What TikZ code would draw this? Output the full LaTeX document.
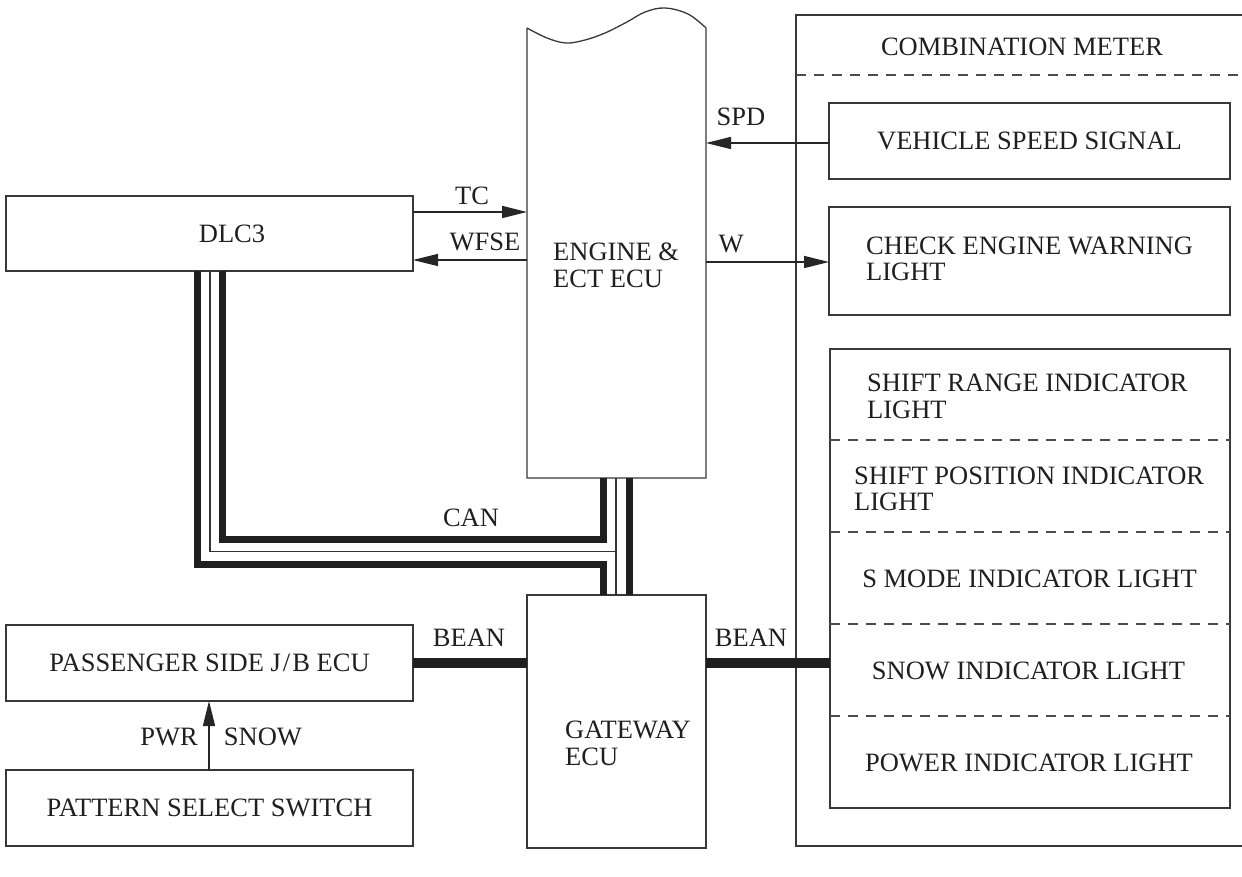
\documentclass[tikz,border=0pt]{standalone}
\usepackage{fontspec}
\setmainfont{Liberation Serif}
\usetikzlibrary{arrows.meta}
\newcommand{\dfont}{\fontsize{26.5}{26.5}\selectfont}
\begin{document}
\begin{tikzpicture}[x=1pt,y=-1pt,
  box/.style={draw=black!78, line width=1.3pt, inner sep=0pt, outer sep=0pt, text=black!88, font=\dfont},
  ghost/.style={inner sep=0pt, outer sep=0pt},
  lbl/.style={inner sep=0pt, text=black!88, font=\dfont},
  arr/.style={draw=black!85, line width=1.3pt, -{Triangle[length=25pt,width=12pt]}},
  thk/.style={draw=black!88, line width=7pt, line join=miter},
  thn/.style={draw=black!80, line width=1.5pt},
  bean/.style={draw=black!88, line width=10.5pt},
  dsh/.style={draw=black!70, line width=1.2pt, dash pattern=on 10pt off 8pt},
]
\useasboundingbox[fill=white] (0,0) rectangle (1242,877);

% boxes
\node[box, minimum width=407pt, minimum height=75pt] (dlc) at (209.5,233.5) {};
\node[lbl] (dlct) at (232,234) {DLC3};
\node[ghost, minimum width=179pt, minimum height=450pt] (engine) at (616.5,253) {};
\draw[black!78, line width=1.3pt]
  (engine.north west) -- (engine.south west) -- (engine.south east) -- (engine.north east)
  plot[smooth, tension=0.6] coordinates {(706,28) (688,14) (665,8) (645,12) (627,22) (605,33) (585,40) (566,43) (547,38) (527,28)};
\node[lbl, anchor=west, align=left] (enginet) at (553,265.5) {ENGINE \&\\ECT ECU};

\node[box, minimum width=179pt, minimum height=253pt] (gw) at (616.5,721.5) {};
\node[lbl, anchor=west, align=left] (gwt) at (565,743.5) {GATEWAY\\ECU};

\node[box, minimum width=407pt, minimum height=76pt] (psjb) at (209.5,663) {PASSENGER SIDE J\kern2pt/\kern2pt B ECU};
\node[box, minimum width=407pt, minimum height=76pt] (pss) at (209.5,808) {PATTERN SELECT SWITCH};

% combination meter
\coordinate (ctop) at (796,15);
\coordinate (cbot) at (796,846);
\draw[black!78, line width=1.3pt] (1242,15) -- (ctop) -- (cbot) -- (1242,846);
\draw[dsh] (796,75) -- (1242,75);
\node[lbl] (combt) at (1022,47) {COMBINATION METER};

\node[box, minimum width=401pt, minimum height=76pt] (vss) at (1029.5,141) {VEHICLE SPEED SIGNAL};
\node[box, minimum width=401pt, minimum height=108pt] (cewl) at (1029.5,261) {};
\node[lbl, anchor=west, align=left] (cewlt) at (866,259) {CHECK ENGINE WARNING\\LIGHT};

\node[box, minimum width=400pt, minimum height=459pt] (ind) at (1030,578.5) {};
\foreach \yy in {440,532,624,716}
  \draw[dsh] (ind.west |- 0,\yy) -- (ind.east |- 0,\yy);
\node[lbl, anchor=west, align=left] (i1) at (867,396.5) {SHIFT RANGE INDICATOR\\LIGHT};
\node[lbl, anchor=west, align=left] (i2) at (854,489) {SHIFT POSITION INDICATOR\\LIGHT};
\node[lbl] (i3) at (1029.5,579) {S MODE INDICATOR LIGHT};
\node[lbl] (i4) at (1028.5,671) {SNOW INDICATOR LIGHT};
\node[lbl] (i5) at (1029,763) {POWER INDICATOR LIGHT};

% signal arrows
\draw[arr] (dlc.east |- 0,212) -- (engine.west |- 0,212);
\draw[arr] (engine.west |- 0,260) -- (dlc.east |- 0,260);
\draw[arr] (vss.west |- 0,143) -- (engine.east |- 0,143);
\draw[arr] (engine.east |- 0,262) -- (cewl.west |- 0,262);
\draw[arr] (pss.north -| 209,0) -- (psjb.south -| 209,0);

\node[lbl] (tc) at (472,196) {TC};
\node[lbl] (wfse) at (485,242) {WFSE};
\node[lbl] (spd) at (741,117) {SPD};
\node[lbl] (w) at (731,244) {W};
\node[lbl] (pwr) at (169,737) {PWR};
\node[lbl] (snow) at (263,737) {SNOW};

% CAN bus
\draw[thk] (dlc.south -| 222,0) -- (222,539) -- (603.5,539) -- (engine.south -| 603.5,0);
\draw[thk] (dlc.south -| 197,0) -- (197,564) -- (603.5,564) -- (gw.north -| 603.5,0);
\draw[thk] (engine.south -| 629,0) -- (gw.north -| 629,0);
\draw[thn] (dlc.south -| 210,0) -- (210,551.5) -- (616,551.5);
\draw[thn] (engine.south -| 616,0) -- (gw.north -| 616,0);
\node[lbl] (can) at (471,518) {CAN};

% BEAN
\draw[bean] (psjb.east |- 0,663) -- (gw.west |- 0,663);
\draw[bean] (gw.east |- 0,663) -- (ind.west |- 0,663);
\node[lbl] (bean1) at (469,638) {BEAN};
\node[lbl] (bean2) at (751,638) {BEAN};
\end{tikzpicture}
\end{document}
